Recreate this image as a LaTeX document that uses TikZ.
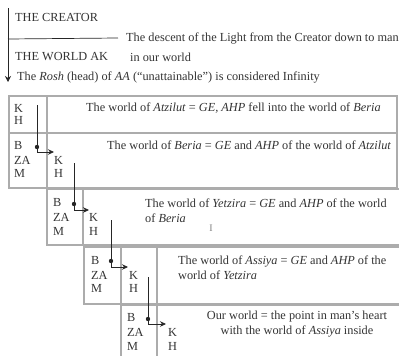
\documentclass[tikz,border=0pt]{standalone}
\usepackage{fontspec}
\setmainfont{Liberation Serif}
\usetikzlibrary{arrows.meta}

\begin{document}
\begin{tikzpicture}[
    x=1pt, y=-1pt,
    font=\fontsize{12.3}{15}\selectfont,
    >=Stealth,
    frame/.style={draw=gray!65, line width=1.2pt},
    cell/.style={anchor=west, inner sep=0pt, text=black!80},
    txt/.style={anchor=west, inner sep=0pt, text=black!80, align=left},
    link/.style={black!85, line width=0.7pt},
    hook/.style={link, -{Stealth[length=6pt,width=5.5pt]}}
  ]
    \useasboundingbox (0,0) rectangle (399,356);
    \clip (0,0) rectangle (399,356);

    % heading
    \node[cell] (creator) at (15,17) {THE CREATOR};
    \node[cell] (descent) at (126,38) {The descent of the Light from the Creator down to man};
    \node[cell] (ak) at (15,57) {THE WORLD AK};
    \node[cell] (ourworld) at (130,57) {in our world};
    \node[cell] (rosh) at (17,77) {The \textit{Rosh} (head) of \textit{AA} (“unattainable”) is considered Infinity};
    \coordinate (top) at (8,8);
    \coordinate (split) at (8,39);
    \coordinate (bottom) at (8,82);
    \draw[link, -{Stealth[length=6pt,width=6pt]}] (top) -- (bottom);
    \draw[link] (split) -- ([xshift=-8pt]descent.west);

    % stacked worlds
    \draw[frame] (9,96) rectangle (397,133);
    \draw[frame] (47,96) -- (47,133);
    \draw[frame] (9,133) rectangle (397,188);
    \draw[frame] (47,133) -- (47,188);
    \draw[frame] (47,189) rectangle (405,245);
    \draw[frame] (83,189) -- (83,245);
    \draw[frame] (84,247) rectangle (405,304);
    \draw[frame] (121,247) -- (121,304);
    \draw[frame] (157,247) -- (157,304);
    \draw[frame] (121,305) rectangle (405,370);
    \draw[frame] (157,305) -- (157,370);

    \node[cell] (k1) at (14,108) {K};
    \node[cell] (h1) at (14,120) {H};

    \node[cell] (b2) at (14,145) {B};
    \node[cell] (za2) at (14,160) {ZA};
    \node[cell] (m2) at (14,173) {M};
    \node[cell] (k2) at (54,160) {K};
    \node[cell] (h2) at (54,173) {H};

    \node[cell] (b3) at (53,202) {B};
    \node[cell] (za3) at (53,217) {ZA};
    \node[cell] (m3) at (53,231) {M};
    \node[cell] (k3) at (89,217) {K};
    \node[cell] (h3) at (89,231) {H};

    \node[cell] (b4) at (91,260) {B};
    \node[cell] (za4) at (91,275) {ZA};
    \node[cell] (m4) at (91,288) {M};
    \node[cell] (k4) at (129,275) {K};
    \node[cell] (h4) at (129,288) {H};

    \node[cell] (b5) at (127,317) {B};
    \node[cell] (za5) at (127,332) {ZA};
    \node[cell] (m5) at (127,346) {M};
    \node[cell] (k5) at (168,332) {K};
    \node[cell] (h5) at (168,346) {H};

    \node[txt] (atzilut) at (86,108) {The world of \textit{Atzilut} = \textit{GE, AHP} fell into the world of \textit{Beria}};
    \node[txt] (beria) at (107,145) {The world of \textit{Beria} = \textit{GE} and \textit{AHP} of the world of \textit{Atzilut}};
    \node[txt] (yetzira) at (145,210.5) {The world of \textit{Yetzira} = \textit{GE} and \textit{AHP} of the world\\of \textit{Beria}};
    \node[txt] (assiya) at (178,267.5) {The world of \textit{Assiya} = \textit{GE} and \textit{AHP} of the\\world of \textit{Yetzira}};
    \node[txt, anchor=center, align=center] (ours) at (297,324.5) {Our world = the point in man’s heart\\with the world of \textit{Assiya} inside};
    \node[inner sep=0pt, text=gray, font=\fontsize{10}{10}\selectfont] (cursor) at (211,228) {I};

    % descent links between the worlds
    \coordinate (s1) at (37,105);  \coordinate (d1) at (37,147);  \coordinate (e1) at (54,152);
    \coordinate (s2) at (74,163);  \coordinate (d2) at (74,204);  \coordinate (e2) at (89,210);
    \coordinate (s3) at (111,220); \coordinate (d3) at (111,261); \coordinate (e3) at (128,267);
    \coordinate (s4) at (148,277); \coordinate (d4) at (148,319); \coordinate (e4) at (166,324);
    \foreach \i in {1,...,4} {
      \draw[link] (s\i) -- (d\i);
      \fill[black!85] (d\i) circle (2.2pt);
      \draw[hook] (d\i) |- (e\i);
    }
\end{tikzpicture}
\end{document}
